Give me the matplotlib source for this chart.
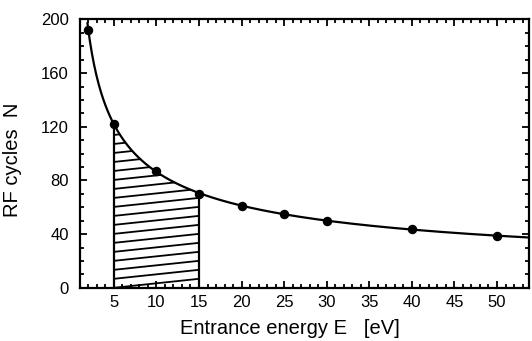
import numpy as np
import matplotlib
matplotlib.use('Agg')
from matplotlib import pyplot as plt
from matplotlib.patches import Polygon
from matplotlib.ticker import MultipleLocator

plt.rcParams['font.family'] = ['Liberation Sans', 'DejaVu Sans']

# measured RF cycles vs entrance energy
energy = [2, 5, 10, 15, 20, 25, 30, 40, 50]
cycles = [192, 122, 87, 70, 61, 55, 50, 44, 38.5]

# energy window that gets shaded
e_lo, e_hi = 5, 15

# power-law fit N = a * E^b through the measured points
b, log_a = np.polyfit(np.log(energy), np.log(cycles), 1)
def fit(e):
    return np.exp(log_a) * np.power(e, b)

fig = plt.figure(figsize=(5.32, 3.41), dpi=100)
ax = fig.add_axes([0.150, 0.156, 0.845, 0.787])

ec = np.linspace(energy[0] - 0.1, 54, 400)
ax.plot(ec, fit(ec), color='black', lw=1.6, zorder=3)
ax.plot(energy, cycles, 'o', color='black', ms=5.8, zorder=4)

# shaded region under the curve between e_lo and e_hi
es = np.linspace(e_lo, e_hi, 100)
verts = [(e_lo, 0)] + list(zip(es, fit(es))) + [(e_hi, 0)]
poly = Polygon(verts, closed=True, facecolor='none', edgecolor='none')
ax.add_patch(poly)
step = 6.7
for off in np.arange(-step * 2, 130, step):
    ln, = ax.plot([e_lo, e_hi], [off, off + step], color='black', lw=1.3, zorder=2)
    ln.set_clip_path(poly)
ax.plot([e_lo, e_lo], [0, fit(e_lo)], color='black', lw=1.6, zorder=2)
ax.plot([e_hi, e_hi], [0, fit(e_hi)], color='black', lw=1.6, zorder=2)

ax.set_xlim(1, 53.8)
ax.set_ylim(0, 200)
ax.xaxis.set_major_locator(MultipleLocator(5))
ax.xaxis.set_minor_locator(MultipleLocator(1))
ax.yaxis.set_major_locator(MultipleLocator(40))
ax.yaxis.set_minor_locator(MultipleLocator(10))
ax.set_xticks(np.arange(5, 55, 5))

ax.tick_params(which='both', direction='in', top=True, right=True, width=1.3)
ax.tick_params(which='major', length=5, labelsize=12)
ax.tick_params(which='minor', length=3)
ax.tick_params(axis='x', which='major', pad=5)
ax.tick_params(axis='y', which='major', pad=8)
for s in ax.spines.values():
    s.set_linewidth(1.6)

ax.set_xlabel('Entrance energy E   [eV]', fontsize=14.5)
ax.set_ylabel('RF cycles  N', fontsize=14.5)
ax.xaxis.set_label_coords(0.467, -0.117)
ax.yaxis.set_label_coords(-0.129, 0.476)

fig.savefig('out.png', dpi=100)
